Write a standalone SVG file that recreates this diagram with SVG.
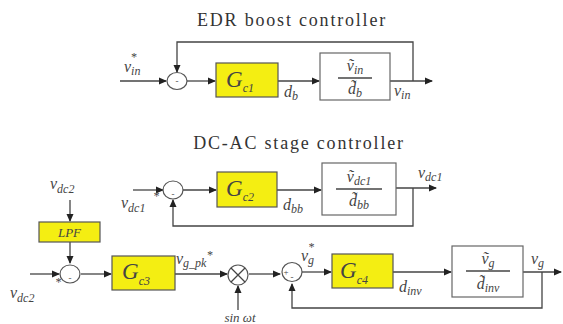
<svg xmlns="http://www.w3.org/2000/svg" width="563" height="324" viewBox="0 0 563 324">
<style>
.ln{fill:none;stroke:#444;stroke-width:1.3}
.arr{fill:none;stroke:#444;stroke-width:1.3;marker-end:url(#ah)}
.ctrl{fill:#f4ee12;stroke:#555;stroke-width:1.2}
.plant{fill:#fff;stroke:#666;stroke-width:1.2}
.sum{fill:#fff;stroke:#555;stroke-width:1.2}
.title{font-size:18px;fill:#333;letter-spacing:1.8px}
.m{font-style:italic;fill:#444}
.g{font-size:23px}
.s{font-size:12px}
.lab{font-size:16px}
.sign{font-size:9px;fill:#444}
</style>
<defs>
<marker id="ah" markerWidth="8" markerHeight="8" refX="7" refY="4" orient="auto" markerUnits="userSpaceOnUse">
<path d="M0,0.5 L8,4 L0,7.5 Z" fill="#222"/>
</marker>
</defs>
<rect width="563" height="324" fill="#fff"/>
<g font-family="Liberation Serif, serif">
<text class="title" x="292" y="26" text-anchor="middle">EDR boost controller</text>
<text class="title" x="299" y="149" text-anchor="middle">DC-AC stage controller</text>

<g id="connectors">
<path class="arr" d="M120,81 H166"/>
<path class="arr" d="M187,81 H215"/>
<path class="arr" d="M278,81 H319"/>
<path class="arr" d="M390,81 H432"/>
<path class="arr" d="M413,81 V42 H177 V72"/>
<path class="arr" d="M133,190 H163"/>
<path class="arr" d="M183,190 H216"/>
<path class="arr" d="M277,190 H321"/>
<path class="arr" d="M396,188 H436"/>
<path class="arr" d="M413,188 V226 H173 V200"/>
<path class="arr" d="M70,200 V221"/>
<path class="arr" d="M70,242 V263"/>
<path class="arr" d="M30,274 H59"/>
<path class="arr" d="M81,274 H111"/>
<path class="arr" d="M175,274 H227"/>
<path class="arr" d="M238,310 V286"/>
<path class="arr" d="M249,274 H280"/>
<path class="arr" d="M302,272 H331"/>
<path class="arr" d="M393,272 H451"/>
<path class="arr" d="M523,272 H561"/>
<path class="arr" d="M542,272 V308 H292 V284"/>
</g>

<g id="sum1">
<ellipse class="sum" cx="177" cy="81" rx="10" ry="8.5"/>
<text class="sign" x="177" y="84" text-anchor="middle">-</text>
</g>
<g id="Gc1">
<rect class="ctrl" x="216" y="63" width="62" height="34"/>
<text class="m g" x="226" y="87">G<tspan class="s" dy="5">c1</tspan></text>
</g>
<g id="plant1">
<rect class="plant" x="320" y="53" width="70" height="47"/>
<text class="m lab" x="355" y="71" text-anchor="middle">ṽ<tspan class="s" dy="3">in</tspan></text>
<line class="ln" x1="338" y1="78" x2="372" y2="78" stroke-width="1"/>
<text class="m lab" x="355" y="94" text-anchor="middle">d̃<tspan class="s" dy="3">b</tspan></text>
</g>
<text class="m lab" x="124" y="72">v<tspan class="s" dy="3">in</tspan><tspan class="s" dx="-10" dy="-14">*</tspan></text>
<text class="m lab" x="284" y="97">d<tspan class="s" dy="3">b</tspan></text>
<text class="m lab" x="394" y="96">v<tspan class="s" dy="3">in</tspan></text>

<g id="sum2">
<ellipse class="sum" cx="173" cy="190" rx="10" ry="9"/>
<text class="sign" x="173" y="197" text-anchor="middle">-</text>
</g>
<g id="Gc2">
<rect class="ctrl" x="217" y="172" width="60" height="35"/>
<text class="m g" x="226" y="196">G<tspan class="s" dy="5">c2</tspan></text>
</g>
<g id="plant2">
<rect class="plant" x="322" y="163" width="74" height="52"/>
<text class="m lab" x="359" y="182" text-anchor="middle">ṽ<tspan class="s" dy="3">dc1</tspan></text>
<line class="ln" x1="336" y1="189" x2="382" y2="189" stroke-width="1"/>
<text class="m lab" x="359" y="206" text-anchor="middle">d̃<tspan class="s" dy="3">bb</tspan></text>
</g>
<text class="m lab" x="121" y="208">v<tspan class="s" dy="4">dc1</tspan></text>
<text class="m s" x="153" y="200">*</text>
<text class="m lab" x="283" y="210">d<tspan class="s" dy="3">bb</tspan></text>
<text class="m lab" x="418" y="178">v<tspan class="s" dy="3">dc1</tspan></text>

<text class="m lab" x="50" y="189">v<tspan class="s" dy="4">dc2</tspan></text>
<g id="LPF">
<rect class="ctrl" x="39" y="222" width="61" height="20"/>
<text class="m" x="69.5" y="237" text-anchor="middle" font-size="13">LPF</text>
</g>
<g id="sum3">
<ellipse class="sum" cx="70" cy="274" rx="10" ry="9"/>
<text class="sign" x="70" y="281" text-anchor="middle">-</text>
</g>
<text class="m lab" x="10" y="298">v<tspan class="s" dy="4">dc2</tspan></text>
<text class="m s" x="55" y="286">*</text>
<g id="Gc3">
<rect class="ctrl" x="112" y="256" width="63" height="34"/>
<text class="m g" x="122" y="279">G<tspan class="s" dy="6">c3</tspan></text>
</g>
<text class="m lab" x="176" y="264">v<tspan class="s" dy="3">g_pk</tspan><tspan class="s" dy="-8">*</tspan></text>
<g id="mult">
<circle class="sum" cx="238" cy="275" r="10"/>
<path class="ln" d="M231,268 L245,282 M245,268 L231,282" stroke-width="1.1"/>
</g>
<text class="m" x="240" y="322" text-anchor="middle" font-size="13">sin ωt</text>
<g id="sum4">
<ellipse class="sum" cx="292" cy="272" rx="10" ry="9.5"/>
<text class="sign" x="286" y="275" text-anchor="middle">+</text>
<text class="sign" x="292" y="280" text-anchor="middle">-</text>
</g>
<text class="m lab" x="301" y="261">v<tspan class="s" dy="3">g</tspan><tspan class="s" dx="-6" dy="-13">*</tspan></text>
<g id="Gc4">
<rect class="ctrl" x="332" y="254" width="61" height="34"/>
<text class="m g" x="340" y="278">G<tspan class="s" dy="6">c4</tspan></text>
</g>
<text class="m lab" x="399" y="292">d<tspan class="s" dy="3">inv</tspan></text>
<g id="plant3">
<rect class="plant" x="452" y="246" width="71" height="51"/>
<text class="m lab" x="488" y="264" text-anchor="middle">ṽ<tspan class="s" dy="3">g</tspan></text>
<line class="ln" x1="466" y1="271" x2="510" y2="271" stroke-width="1"/>
<text class="m lab" x="488" y="289" text-anchor="middle">d̃<tspan class="s" dy="3">inv</tspan></text>
</g>
<text class="m lab" x="531" y="264">v<tspan class="s" dy="3">g</tspan></text>
</g>
</svg>
